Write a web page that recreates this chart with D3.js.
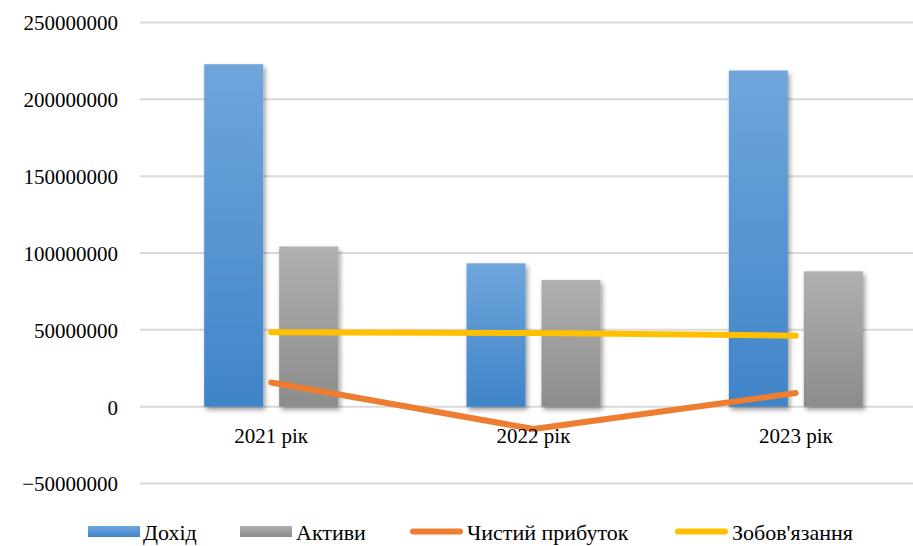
<!DOCTYPE html>
<html>
<head>
<meta charset="utf-8">
<script src="https://cdn.jsdelivr.net/npm/d3@7"></script>
<style>
  html, body { margin: 0; padding: 0; background: #fff; }
  svg { display: block; }
  text { font-family: "Liberation Serif", "DejaVu Serif", "Noto Serif", serif; fill: #000; }
</style>
</head>
<body>
<svg id="chart" width="913" height="546"></svg>
<script>
const categories = ["2021 рік", "2022 рік", "2023 рік"];
const seriesNames = ["Дохід", "Активи", "Чистий прибуток", "Зобов'язання"];
const revenue = [222800000, 93300000, 218700000];
const assets = [104200000, 82500000, 88100000];
const netProfit = [15800000, -14500000, 8900000];
const liabilities = [48400000, 48000000, 46200000];
const yTicks = [-50000000, 0, 50000000, 100000000, 150000000, 200000000, 250000000];

const FONT = "'Liberation Serif', 'DejaVu Serif', 'Noto Serif', serif";
const svg = d3.select("#chart");
const W = 913, H = 546;

const y = d3.scaleLinear().domain([-50000000, 250000000]).range([483.6, 22.4]);
const x = d3.scaleBand().domain(categories).range([140, 927]).paddingInner(0).paddingOuter(0);
const inner = d3.scaleBand().domain(["rev", "ast"]).range([0, x.bandwidth()]).paddingInner(0.213).paddingOuter(0.856);

const defs = svg.append("defs");
const gBlue = defs.append("linearGradient").attr("id", "gBlue").attr("x1", 0).attr("y1", 0).attr("x2", 0).attr("y2", 1);
gBlue.append("stop").attr("offset", "0%").attr("stop-color", "#6fa6dc");
gBlue.append("stop").attr("offset", "100%").attr("stop-color", "#3f84c8");
const gGray = defs.append("linearGradient").attr("id", "gGray").attr("x1", 0).attr("y1", 0).attr("x2", 0).attr("y2", 1);
gGray.append("stop").attr("offset", "0%").attr("stop-color", "#b0b0b0");
gGray.append("stop").attr("offset", "100%").attr("stop-color", "#8c8c8c");
const flt = defs.append("filter").attr("id", "shadow").attr("x", "-20%").attr("y", "-10%").attr("width", "150%").attr("height", "130%");
flt.append("feDropShadow").attr("dx", 2).attr("dy", 3).attr("stdDeviation", 2.5).attr("flood-color", "#000").attr("flood-opacity", 0.4);

// gridlines
svg.append("g").attr("class", "grid")
  .selectAll("line").data(yTicks).join("line")
  .attr("x1", 140).attr("x2", W)
  .attr("y1", d => y(d)).attr("y2", d => y(d))
  .attr("stroke", "#d9d9d9").attr("stroke-width", 2);

// y axis labels
const yAxis = d3.axisLeft(y).tickValues(yTicks).tickSize(0).tickFormat(d => d3.format("d")(d));
const ya = svg.append("g").attr("transform", "translate(140,0)").call(yAxis)
  .attr("font-family", FONT);
ya.select(".domain").remove();
ya.selectAll("text").attr("x", -22).attr("dy", "0.35em")
  .style("font-family", FONT).style("font-size", "21px").attr("fill", "#000");

// bars
const bars = svg.append("g");
categories.forEach((c, i) => {
  bars.append("rect")
    .attr("x", x(c) + inner("rev")).attr("width", inner.bandwidth())
    .attr("y", y(revenue[i])).attr("height", y(0) - y(revenue[i]))
    .attr("fill", "url(#gBlue)").attr("filter", "url(#shadow)");
  bars.append("rect")
    .attr("x", x(c) + inner("ast")).attr("width", inner.bandwidth())
    .attr("y", y(assets[i])).attr("height", y(0) - y(assets[i]))
    .attr("fill", "url(#gGray)").attr("filter", "url(#shadow)");
});

// lines
const cx = c => x(c) + x.bandwidth() / 2;
const lineGen = d3.line().x((d, i) => cx(categories[i])).y(d => y(d));
svg.append("path").datum(liabilities).attr("d", lineGen)
  .attr("fill", "none").attr("stroke", "#ffc000").attr("stroke-width", 6)
  .attr("stroke-linecap", "round").attr("stroke-linejoin", "round");
svg.append("path").datum(netProfit).attr("d", lineGen)
  .attr("fill", "none").attr("stroke", "#ed7d31").attr("stroke-width", 6)
  .attr("stroke-linecap", "round").attr("stroke-linejoin", "round");

// category labels
svg.append("g").selectAll("text").data(categories).join("text")
  .attr("x", d => cx(d)).attr("y", 443)
  .attr("text-anchor", "middle").style("font-family", FONT).style("font-size", "21px").text(d => d);

// legend
const legend = svg.append("g");
const items = [
  { name: seriesNames[0], type: "rect", fill: "url(#gBlue)", x0: 88, tx: 143 },
  { name: seriesNames[1], type: "rect", fill: "url(#gGray)", x0: 240, tx: 296 },
  { name: seriesNames[2], type: "line", fill: "#ed7d31", x0: 410, tx: 467 },
  { name: seriesNames[3], type: "line", fill: "#ffc000", x0: 675, tx: 732 }
];
items.forEach(it => {
  if (it.type === "rect") {
    legend.append("rect").attr("x", it.x0).attr("y", 526).attr("width", 52).attr("height", 11).attr("fill", it.fill);
  } else {
    legend.append("line").attr("x1", it.x0 + 3).attr("x2", it.x0 + 50).attr("y1", 531.5).attr("y2", 531.5)
      .attr("stroke", it.fill).attr("stroke-width", 6).attr("stroke-linecap", "round");
  }
  legend.append("text").attr("x", it.tx).attr("y", 540).style("font-family", FONT).style("font-size", "22px").text(it.name);
});
</script>
</body>
</html>
